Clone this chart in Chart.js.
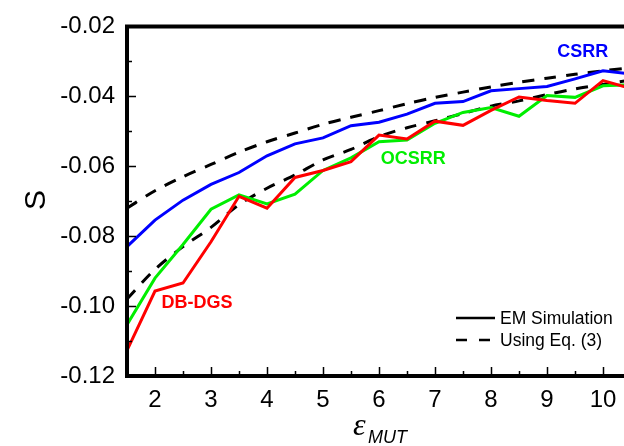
<!DOCTYPE html>
<html>
<head>
<meta charset="utf-8">
<script src="https://cdn.jsdelivr.net/npm/chart.js@4"></script>
<style>
  html, body { margin: 0; padding: 0; background: #fff; overflow: hidden; }
  #wrap { position: relative; width: 640px; height: 446px; }
</style>
</head>
<body>
<div id="wrap"><canvas id="chart"></canvas></div>
<script>
// permittivity of material under test (x axis)
const epsMut = [1.5, 2, 2.5, 3, 3.5, 4, 4.5, 5, 5.5, 6, 6.5, 7, 7.5, 8, 8.5, 9, 9.5, 10, 10.5];

// EM simulation curves
const csrrSim = [-0.0830, -0.0754, -0.0697, -0.0652, -0.0618, -0.0570, -0.0536, -0.0519, -0.0484, -0.0474,
  -0.0451, -0.0420, -0.0415, -0.0384, -0.0378, -0.0372, -0.0350, -0.0327, -0.0336];
const ocsrrSim = [-0.1053, -0.0920, -0.0824, -0.0723, -0.0682, -0.0708, -0.0680, -0.0612, -0.0576, -0.0530,
  -0.0525, -0.0477, -0.0446, -0.0432, -0.0457, -0.0398, -0.0403, -0.0370, -0.0367];
const dbdgsSim = [-0.1127, -0.0957, -0.0934, -0.0816, -0.0686, -0.0720, -0.0632, -0.0612, -0.0587, -0.0511,
  -0.0522, -0.0471, -0.0483, -0.0440, -0.0402, -0.0412, -0.0420, -0.0355, -0.0378];

// Eq. (3) curves
const eqUpper = [-0.0720, -0.0670, -0.0630, -0.0595, -0.0560, -0.0530, -0.0505, -0.0480, -0.0460, -0.0441,
  -0.0421, -0.0403, -0.0388, -0.0373, -0.0360, -0.0348, -0.0337, -0.0327, -0.0318];
const eqLower = [-0.0980, -0.0895, -0.0830, -0.0775, -0.0710, -0.0663, -0.0625, -0.0582, -0.0552, -0.0515,
  -0.0490, -0.0470, -0.0449, -0.0428, -0.0413, -0.0395, -0.0379, -0.0366, -0.0353];

// ticks
const xMajorTicks = [2, 3, 4, 5, 6, 7, 8, 9, 10];
const xMinorTicks = [1.5, 2.5, 3.5, 4.5, 5.5, 6.5, 7.5, 8.5, 9.5, 10.5];
const yMajorTicks = [-0.02, -0.04, -0.06, -0.08, -0.10, -0.12];
const yMinorTicks = [-0.03, -0.05, -0.07, -0.09, -0.11];

// in-plot labels (data coords)
const curveLabels = [
  { text: "CSRR", x: 9.64, y: -0.0273, color: "#0000ff" },
  { text: "OCSRR", x: 6.61, y: -0.0579, color: "#00ee00" },
  { text: "DB-DGS", x: 2.75, y: -0.0991, color: "#ff0000" }
];

const BLUE = "#0000ff";
const GREEN = "#00ee00";
const RED = "#ff0000";
const SANS = "'Liberation Sans', Arial, sans-serif";

const pts = (ys) => ys.map((y, i) => ({ x: epsMut[i], y }));

const framePlugin = {
  id: "framePlugin",
  afterDraw(c) {
    const { ctx, chartArea, scales } = c;
    const { left, right, top, bottom } = chartArea;
    const x = scales.x, y = scales.y;
    ctx.save();
    ctx.strokeStyle = "#000";
    ctx.lineWidth = 4;
    ctx.lineCap = "square";
    ctx.beginPath();
    ctx.moveTo(left, top);
    ctx.lineTo(right, top);
    ctx.lineTo(right, bottom);
    ctx.lineTo(left, bottom);
    ctx.closePath();
    ctx.stroke();

    ctx.lineWidth = 1.5;
    ctx.lineCap = "butt";
    ctx.beginPath();
    xMajorTicks.forEach((v) => {
      const px = Math.round(x.getPixelForValue(v)) + 0.5;
      ctx.moveTo(px, bottom); ctx.lineTo(px, bottom - 9);
    });
    xMinorTicks.forEach((v) => {
      const px = Math.round(x.getPixelForValue(v)) + 0.5;
      ctx.moveTo(px, bottom); ctx.lineTo(px, bottom - 5);
    });
    yMajorTicks.forEach((v) => {
      const py = Math.round(y.getPixelForValue(v)) + 0.5;
      ctx.moveTo(left, py); ctx.lineTo(left + 9, py);
    });
    yMinorTicks.forEach((v) => {
      const py = Math.round(y.getPixelForValue(v)) + 0.5;
      ctx.moveTo(left, py); ctx.lineTo(left + 5, py);
    });
    ctx.stroke();

    // curve labels
    ctx.font = "bold 18px " + SANS;
    ctx.textAlign = "center";
    ctx.textBaseline = "middle";
    curveLabels.forEach((l) => {
      ctx.fillStyle = l.color;
      ctx.fillText(l.text, x.getPixelForValue(l.x), y.getPixelForValue(l.y));
    });

    // legend
    const lx = 456, ly1 = 318, ly2 = 340;
    ctx.strokeStyle = "#000";
    ctx.lineWidth = 2.5;
    ctx.beginPath();
    ctx.moveTo(lx, ly1); ctx.lineTo(lx + 39, ly1);
    ctx.moveTo(lx, ly2); ctx.lineTo(lx + 11, ly2);
    ctx.moveTo(lx + 23, ly2); ctx.lineTo(lx + 34, ly2);
    ctx.stroke();
    ctx.fillStyle = "#000";
    ctx.font = "17.5px " + SANS;
    ctx.textAlign = "left";
    ctx.fillText("EM Simulation", 500, ly1 + 1);
    ctx.fillText("Using Eq. (3)", 500, ly2 + 1);

    // axis titles
    ctx.save();
    ctx.translate(37, 200);
    ctx.rotate(-Math.PI / 2);
    ctx.font = "30px " + SANS;
    ctx.textAlign = "center";
    ctx.textBaseline = "middle";
    ctx.fillText("S", 0, 0);
    ctx.restore();

    ctx.textAlign = "left";
    ctx.textBaseline = "alphabetic";
    ctx.font = "italic 32px 'Liberation Serif', 'Times New Roman', serif";
    ctx.fillText("\u03b5", 353, 435);
    ctx.font = "italic 18px " + SANS;
    ctx.fillText("MUT", 368, 443);
    ctx.restore();
  }
};

new Chart(document.getElementById("chart"), {
  type: "line",
  data: {
    datasets: [
      { label: "CSRR", data: pts(csrrSim), borderColor: BLUE, borderWidth: 3 },
      { label: "DB-DGS", data: pts(dbdgsSim), borderColor: RED, borderWidth: 3 },
      { label: "OCSRR", data: pts(ocsrrSim), borderColor: GREEN, borderWidth: 3 },
      { label: "Eq upper", data: pts(eqUpper), borderColor: "#000", borderWidth: 3, borderDash: [12, 10], tension: 0.3 },
      { label: "Eq lower", data: pts(eqLower), borderColor: "#000", borderWidth: 3, borderDash: [12, 10], tension: 0.3 }
    ]
  },
  options: {
    responsive: true,
    maintainAspectRatio: false,
    animation: false,
    devicePixelRatio: 1,
    elements: { point: { radius: 0 }, line: { fill: false, borderCapStyle: "butt" } },
    layout: { padding: { left: 0, top: 22, right: 9, bottom: 0 } },
    plugins: { legend: { display: false }, tooltip: { enabled: false } },
    scales: {
      x: {
        type: "linear",
        min: 1.5,
        max: 10.5,
        afterBuildTicks: (axis) => { axis.ticks = xMajorTicks.map((v) => ({ value: v })); },
        afterFit: (s) => { s.height = 70; },
        grid: { display: false, drawTicks: false },
        border: { display: false },
        ticks: {
          color: "#000",
          padding: 10,
          maxRotation: 0,
          font: { family: SANS, size: 24 },
          callback: (v) => String(v)
        }
      },
      y: {
        type: "linear",
        min: -0.12,
        max: -0.02,
        afterBuildTicks: (axis) => { axis.ticks = yMajorTicks.map((v) => ({ value: v })); },
        afterFit: (s) => { s.width = 127; },
        grid: { display: false, drawTicks: false },
        border: { display: false },
        ticks: {
          color: "#000",
          padding: 12,
          font: { family: SANS, size: 24 },
          callback: (v) => Number(v).toFixed(2)
        }
      }
    }
  },
  plugins: [framePlugin]
});
</script>
</body>
</html>
